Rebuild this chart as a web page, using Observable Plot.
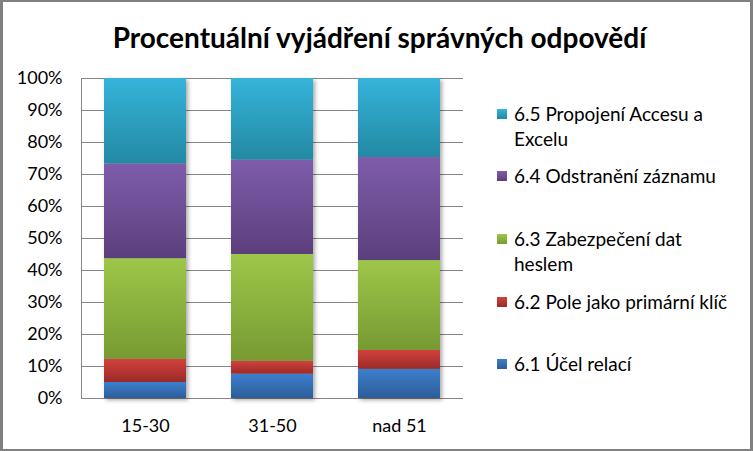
<!DOCTYPE html>
<html>
<head>
<meta charset="utf-8">
<script src="https://cdn.jsdelivr.net/npm/d3@7"></script>
<script src="https://cdn.jsdelivr.net/npm/@observablehq/plot@0.6"></script>
<style>
  body { margin: 0; background: #fff; }
  #chart { position: relative; width: 753px; height: 451px; overflow: hidden; background: #fff; font-family: Lato, sans-serif; color: #000; }
  #chart svg { position: absolute; left: 0; top: 0; }
  #title { position: absolute; left: 0; width: 759px; top: 22px; text-align: center; font-weight: bold; font-size: 28px; line-height: 30px; white-space: nowrap; }
  #legend { position: absolute; left: 497px; top: 0; }
  .item { position: absolute; left: 0; width: 250px; }
  .sw { position: absolute; left: 0; top: 7px; width: 10px; height: 10px; }
  .lbl { position: absolute; left: 17px; top: 0; width: 228px; font-size: 19px; line-height: 24.5px; }
  #frame { position: absolute; left: 0; top: 0; width: 753px; height: 451px; box-sizing: border-box; border-style: solid; border-color: #808080; border-width: 2px 3px 2px 3px; pointer-events: none; }
</style>
</head>
<body>
<div id="chart">
  <div id="title">Procentuální vyjádření správných odpovědí</div>
  <div id="legend"></div>
  <div id="frame"></div>
</div>
<script>
// ---- data ----
const categories = ["15-30", "31-50", "nad 51"];
const series = [
  "6.1 Účel relací",
  "6.2 Pole jako primární klíč",
  "6.3 Zabezpečení dat heslem",
  "6.4 Odstranění záznamu",
  "6.5 Propojení Accesu a Excelu"
];
const s61 = [5.0, 7.6, 9.1];
const s62 = [7.2, 4.0, 5.9];
const s63 = [31.5, 33.4, 28.1];
const s64 = [29.6, 29.5, 32.2];
const s65 = [26.7, 25.5, 24.7];
const yTicks = [0, 10, 20, 30, 40, 50, 60, 70, 80, 90, 100];

// ---- styles ----
const gradStops = [
  ["#3D7FCD", "#2D5D99"],
  ["#D2413E", "#9A2B28"],
  ["#9DC749", "#779A32"],
  ["#7F5CAB", "#5B3F7C"],
  ["#35B4DA", "#2389A3"]
];

const seriesValues = [s61, s62, s63, s64, s65];
const rows = categories.flatMap((c, i) =>
  series.map((s, j) => ({category: c, series: s, value: seriesValues[j][i]}))
);

const svg = Plot.plot({
  width: 753,
  height: 451,
  marginTop: 78,
  marginBottom: 53,
  marginLeft: 81,
  marginRight: 290,
  style: {fontFamily: "Lato, sans-serif", fontSize: "18px", color: "#000", background: "transparent"},
  x: {domain: categories, paddingInner: 0.357, paddingOuter: 0.178, label: null, tickSize: 0, tickPadding: 21},
  y: {domain: [0, 100], ticks: yTicks, tickFormat: d => d + "%", label: null, tickSize: 0, tickPadding: 19},
  color: {domain: series, range: series.map((s, i) => `url(#grad${i})`)},
  marks: [
    Plot.ruleY(yTicks, {stroke: "#868686", strokeWidth: 1}),
    Plot.frame({anchor: "left", stroke: "#868686"}),
    Plot.barY(rows, {x: "category", y: "value", fill: "series", order: series})
  ]
});

const defs = d3.select(svg).insert("defs", ":first-child");
gradStops.forEach((st, i) => {
  const g = defs.append("linearGradient").attr("id", `grad${i}`)
    .attr("x1", 0).attr("y1", 0).attr("x2", 0).attr("y2", 1);
  g.append("stop").attr("offset", "0%").attr("stop-color", st[0]);
  g.append("stop").attr("offset", "100%").attr("stop-color", st[1]);
});
d3.select(svg).selectAll("g[aria-label='bar']").style("filter", "drop-shadow(2px 2px 2px rgba(0,0,0,0.35))");
d3.select(svg).selectAll("g[aria-label='x-axis tick label'] text, g[aria-label='y-axis tick label'] text").attr("fill", "#000");

const chart = document.getElementById("chart");
chart.insertBefore(svg, chart.firstChild);

// ---- legend (top to bottom: 6.5 ... 6.1) ----
const legendTops = [102, 164, 227, 290, 352];
const legend = document.getElementById("legend");
series.slice().reverse().forEach((s, k) => {
  const i = series.length - 1 - k;
  const item = document.createElement("div");
  item.className = "item";
  item.style.top = legendTops[k] + "px";
  const sw = document.createElement("div");
  sw.className = "sw";
  sw.style.background = `linear-gradient(${gradStops[i][0]}, ${gradStops[i][1]})`;
  const lbl = document.createElement("div");
  lbl.className = "lbl";
  lbl.textContent = s;
  item.appendChild(sw);
  item.appendChild(lbl);
  legend.appendChild(item);
});
</script>
</body>
</html>
